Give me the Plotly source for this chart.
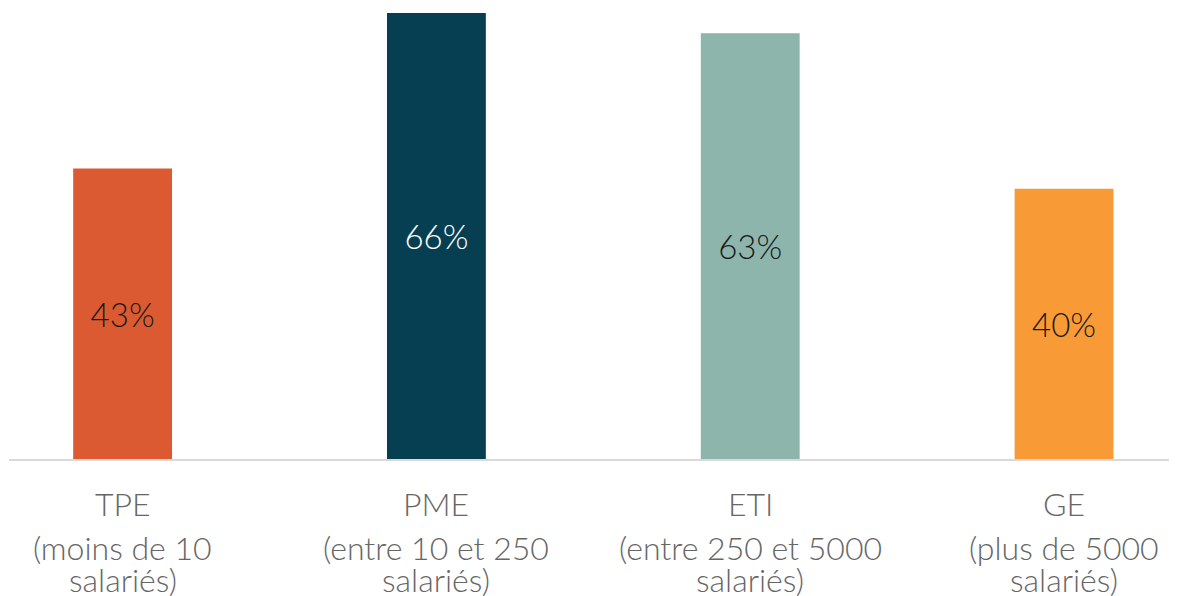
import plotly.graph_objects as go

categories = ["TPE", "PME", "ETI", "GE"]
subtitle_line1 = ["(moins de 10", "(entre 10 et 250", "(entre 250 et 5000", "(plus de 5000"]
subtitle_line2 = ["salariés)", "salariés)", "salariés)", "salariés)"]
values = [43, 66, 63, 40]
labels = ["43%", "66%", "63%", "40%"]
colors = ["#DC5A32", "#073F52", "#8DB5AC", "#F89B37"]
label_colors = ["#1a1a1a", "#ffffff", "#1a1a1a", "#1a1a1a"]

fig = go.Figure(go.Bar(
    x=categories, y=values, text=labels,
    marker=dict(color=colors, line=dict(width=0)),
    width=0.315,
    textposition="inside", insidetextanchor="middle",
    textfont=dict(size=33, color=label_colors, family="Lato", weight=300),
    textangle=0,
))

label_font = dict(family="Lato", size=32, color="#666666", weight=300)
for lines, shift in ((categories, -44), (subtitle_line1, -88), (subtitle_line2, -120)):
    for cat, txt in zip(categories, lines):
        fig.add_annotation(x=cat, xref="x", y=0, yref="paper", yanchor="middle",
                           xanchor="center", yshift=shift, text=txt, showarrow=False,
                           font=label_font)

fig.update_layout(
    width=1169, height=588,
    margin=dict(l=1, r=5, t=5, b=137),
    paper_bgcolor="white", plot_bgcolor="white",
    showlegend=False,
    font=dict(family="Lato", color="#666666"),
    uniformtext=dict(minsize=10, mode="show"),
)
fig.update_xaxes(range=[-0.362, 3.344], showline=True, linecolor="#D9D9D9", linewidth=1.5,
                 showgrid=False, ticks="", showticklabels=False, fixedrange=True)
fig.update_yaxes(range=[0, 66], visible=False, showgrid=False, zeroline=False)
fig.write_html("out.html")
